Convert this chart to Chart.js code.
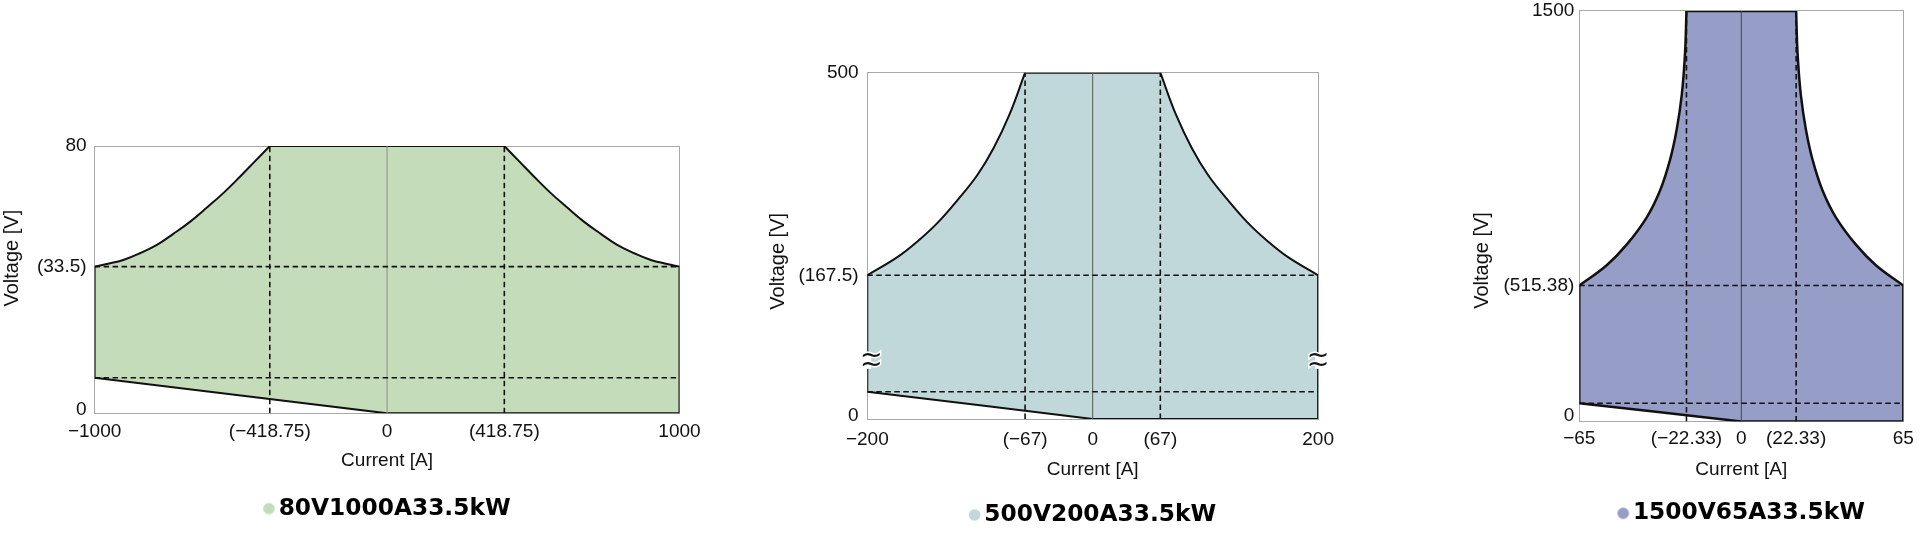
<!DOCTYPE html>
<html><head><meta charset="utf-8">
<script src="https://cdn.jsdelivr.net/npm/chart.js@4.4.1/dist/chart.umd.min.js"></script>
<style>
html,body{margin:0;padding:0;background:#fff;width:1920px;height:533px;overflow:hidden;position:relative}
canvas{position:absolute}
</style></head><body>
<canvas id="c1"></canvas><canvas id="c2"></canvas><canvas id="c3"></canvas>
<script>
// ---------- DATA (axis units as drawn in the schematic) ----------
const xTitle = 'Current [A]';
const yTitle = 'Voltage [V]';

// Chart 1: 80V1000A33.5kW
const c1Label = '80V1000A33.5kW';
const c1LeftCurveX = [-1000, -958, -902, -845, -787, -731, -674, -617, -560, -503, -452, -401];
const c1LeftCurveY = [43.9, 44.7, 45.9, 47.9, 50.4, 53.7, 57.3, 61.5, 65.9, 70.8, 75.4, 80];
const c1RightCurveX = [401, 452, 503, 560, 617, 674, 731, 787, 845, 902, 958, 1000];
const c1RightCurveY = [80, 75.4, 70.8, 65.9, 61.5, 57.3, 53.7, 50.4, 47.9, 45.9, 44.7, 43.9];
const c1BottomX = [1000, 0, -1000];
const c1BottomY = [0, 0, 10.65];
const c1DashX = [-401, 401];
const c1DashY = [43.9, 10.65];
const c1XTicks = [-1000, -401, 0, 401, 1000];
const c1XLabels = ['\u22121000', '(\u2212418.75)', '0', '(418.75)', '1000'];
const c1YTicks = [0, 43.9, 80];
const c1YLabels = ['0', '(33.5)', '80'];
const c1XRange = [-1000, 1000];
const c1YRange = [0, 80];
const c1Breaks = [];

// Chart 2: 500V200A33.5kW
const c2Label = '500V200A33.5kW';
const c2LeftCurveX = [-200, -173, -155, -137.5, -120, -102.5, -88, -74, -60];
const c2LeftCurveY = [207.5, 234, 257, 283.5, 316, 352, 391, 439, 500];
const c2RightCurveX = [60, 74, 88, 102.5, 120, 137.5, 155, 173, 200];
const c2RightCurveY = [500, 439, 391, 352, 316, 283.5, 257, 234, 207.5];
const c2BottomX = [200, 0, -200];
const c2BottomY = [0, 0, 39.4];
const c2DashX = [-60, 60];
const c2DashY = [207.5, 39.4];
const c2XTicks = [-200, -60, 0, 60, 200];
const c2XLabels = ['\u2212200', '(\u221267)', '0', '(67)', '200'];
const c2YTicks = [0, 207.5, 500];
const c2YLabels = ['0', '(167.5)', '500'];
const c2XRange = [-200, 200];
const c2YRange = [0, 500];
const c2Breaks = [{x: -200, y: 84, dx: 4}, {x: 200, y: 84, dx: 0}];

// Chart 3: 1500V65A33.5kW
const c3Label = '1500V65A33.5kW';
const c3LeftCurveX = [-65, -54, -46, -38, -32.6, -28.6, -25.9, -23.9, -22.6, -22];
const c3LeftCurveY = [496.8, 571, 646, 745, 844, 956, 1068, 1192, 1341, 1500];
const c3RightCurveX = [22, 22.6, 23.9, 25.9, 28.6, 32.6, 38, 46, 54, 65];
const c3RightCurveY = [1500, 1341, 1192, 1068, 956, 844, 745, 646, 571, 496.8];
const c3BottomX = [65, 0, -65];
const c3BottomY = [0, 0, 66.9];
const c3DashX = [-22, 22];
const c3DashY = [496.8, 66.9];
const c3XTicks = [-65, -22, 0, 22, 65];
const c3XLabels = ['\u221265', '(\u221222.33)', '0', '(22.33)', '65'];
const c3YTicks = [0, 496.8, 1500];
const c3YLabels = ['0', '(515.38)', '1500'];
const c3XRange = [-65, 65];
const c3YRange = [0, 1500];
const c3Breaks = [];

// ---------- STYLE / LAYOUT ----------
const FONT = '"Liberation Sans", Arial, sans-serif';
const BORDER = '#a8a8a8';
const STYLES = {
  c1: {color: '#c5dcba', left: 0, top: -14, width: 709, height: 554, titlePad: 0.2, yAxisWidth: 70.4, plotTop: 160, padRight: 29.5,
       xTickPad: 7, xTitlePad: -0.8, yTickPad: 8, legendPad: 24.85, padBottom: 9.75, lineWidth: 2, zeroColor: '#8c8c8c', zeroLift: 4},
  c2: {color: '#c1d8da', left: 760, top: -14, width: 584, height: 554, titlePad: 6.6, yAxisWidth: 76.7, plotTop: 86.7, padRight: 25.9,
       xTickPad: 9, xTitlePad: -1.2, yTickPad: 8.7, legendPad: 21.95, padBottom: 3.35, lineWidth: 2, zeroColor: '#555555', zeroLift: 3},
  c3: {color: '#969ec8', left: 1460, top: -14, width: 460, height: 554, titlePad: 10.5, yAxisWidth: 84.8, plotTop: 24.9, padRight: 16.7,
       xTickPad: 5.5, xTitlePad: 2.6, yTickPad: 5, legendPad: 20.95, padBottom: 5.05, lineWidth: 2.5, zeroColor: '#444444', zeroLift: 6}
};

function dotImage(color) {
  const c = document.createElement('canvas');
  c.width = 22; c.height = 14;
  const g = c.getContext('2d');
  g.fillStyle = color;
  g.beginPath(); g.arc(14.7, 7, 5.8, 0, Math.PI * 2); g.fill();
  return c;
}

// Build the closed outline: curve pieces keep smooth joints, piece ends become sharp corners.
function outline(pieces) {
  const pts = [];
  pieces.forEach(([xs, ys], k) => {
    xs.forEach((x, i) => {
      const corner = (i === 0 || i === xs.length - 1 || k === pieces.length - 1);
      pts.push({x, y: ys[i]});
      if (corner) pts.push({x, y: ys[i]});
    });
  });
  pts.push({x: pieces[0][0][0], y: pieces[0][1][0]});
  return pts;
}

const breakPlugin = {
  id: 'breakMarks',
  afterDatasetsDraw(chart, args, opts) {
    const pts = (opts && opts.points) || [];
    const ctx = chart.ctx;
    pts.forEach(p => {
      const x = chart.scales.x.getPixelForValue(p.x) + (p.dx || 0);
      const y = chart.scales.y.getPixelForValue(p.y);
      ctx.save();
      ctx.fillStyle = '#ffffff';
      ctx.fillRect(x - 3 - (p.dx || 0), y - 8, 7, 16);
      ctx.font = '27px "DejaVu Sans"';
      ctx.textAlign = 'center';
      ctx.textBaseline = 'middle';
      ctx.lineWidth = 3; ctx.strokeStyle = '#ffffff';
      ctx.strokeText('~', x, y - 4.5);
      ctx.strokeText('~', x, y + 4.5);
      ctx.fillStyle = '#111';
      ctx.fillText('~', x, y - 4.5);
      ctx.fillText('~', x, y + 4.5);
      ctx.restore();
    });
  }
};

function build(id, d, S) {
  const el = document.getElementById(id);
  el.width = S.width; el.height = S.height;
  el.style.left = S.left + 'px'; el.style.top = S.top + 'px';
  el.style.width = S.width + 'px'; el.style.height = S.height + 'px';

  const datasets = [];
  datasets.push({
    label: d.label,
    data: outline([[d.lx, d.ly], [d.rx, d.ry], [d.bx, d.by]]),
    backgroundColor: S.color, borderColor: '#111', borderWidth: S.lineWidth,
    fill: 'shape', pointRadius: 0, tension: 0.4, order: 3, borderJoinStyle: 'round'
  });
  datasets.push({
    label: 'zero', data: [{x: 0, y: d.yRange[0]}, {x: 0, y: d.yRange[1]}],
    borderColor: S.zeroColor, borderWidth: 1, pointRadius: 0, fill: false, order: 2
  });
  d.dashX.forEach(x => datasets.push({
    label: 'dx', data: [{x, y: d.yRange[0]}, {x, y: d.yRange[1]}],
    borderColor: '#111', borderWidth: 1.6, borderDash: [5.5, 3.5], pointRadius: 0, fill: false, order: 1
  }));
  d.dashY.forEach(y => datasets.push({
    label: 'dy', data: [{x: d.xRange[0], y}, {x: d.xRange[1], y}],
    borderColor: '#111', borderWidth: 1.6, borderDash: [5.5, 3.5], pointRadius: 0, fill: false, order: 1
  }));

  const tickFont = {family: FONT, size: 19};
  // bottom y label sits slightly above the axis line: a 2-line label with a small line height lifts it
  const yTickFont = (ctx) => (ctx.index === 0 ? {family: FONT, size: 19, lineHeight: (2 * S.zeroLift) / 19} : tickFont);
  new Chart(el, {
    type: 'line',
    data: {datasets},
    plugins: [breakPlugin],
    options: {
      responsive: false, animation: false, devicePixelRatio: 1,
      layout: {padding: {left: 0, top: 0, right: S.padRight, bottom: S.padBottom}},
      scales: {
        x: {
          type: 'linear', position: 'bottom', min: d.xRange[0], max: d.xRange[1],
          afterBuildTicks: s => { s.ticks = d.xTicks.map(v => ({value: v})); },
          ticks: {autoSkip: false, maxRotation: 0, padding: S.xTickPad, color: '#111', font: tickFont,
                  callback: (v, i) => d.xLabels[i]},
          grid: {display: false, drawTicks: false},
          border: {display: true, color: BORDER, width: 1},
          title: {display: true, text: xTitle, color: '#111', font: tickFont, padding: {top: S.xTitlePad, bottom: 0}}
        },
        y: {
          type: 'linear', position: 'left', min: d.yRange[0], max: d.yRange[1],
          afterBuildTicks: s => { s.ticks = d.yTicks.map(v => ({value: v})); },
          afterFit: s => { s.width = S.yAxisWidth; },
          ticks: {autoSkip: false, padding: S.yTickPad, color: '#111', font: yTickFont,
                  callback: (v, i) => (i === 0 ? [d.yLabels[i], ''] : d.yLabels[i])},
          grid: {display: false, drawTicks: false},
          border: {display: true, color: BORDER, width: 1}
        },
        x2: {
          type: 'linear', position: 'top', min: d.xRange[0], max: d.xRange[1],
          ticks: {display: false}, grid: {display: false, drawTicks: false},
          border: {display: true, color: BORDER, width: 1},
          afterFit: s => { s.height = S.plotTop; }
        },
        y2: {
          type: 'linear', position: 'right', min: d.yRange[0], max: d.yRange[1],
          ticks: {display: false}, grid: {display: false, drawTicks: false},
          border: {display: true, color: BORDER, width: 1},
          afterFit: s => { s.width = 0; }
        }
      },
      plugins: {
        tooltip: {enabled: false},
        title: {display: true, position: 'left', fullSize: true, text: yTitle, color: '#111',
                font: {family: FONT, size: 20, weight: 'normal'}, padding: {top: S.titlePad, bottom: 0}},
        legend: {
          display: true, position: 'bottom', fullSize: false, align: 'center',
          labels: {
            usePointStyle: true, pointStyle: dotImage(S.color), pointStyleWidth: 3.5, boxHeight: 12,
            padding: S.legendPad, color: '#000',
            font: {family: '"DejaVu Sans"', size: 23.3, weight: 'bold'},
            filter: item => item.datasetIndex === 0
          }
        },
        breakMarks: {points: d.breaks}
      }
    }
  });
}

build('c1', {label: c1Label, lx: c1LeftCurveX, ly: c1LeftCurveY, rx: c1RightCurveX, ry: c1RightCurveY, bx: c1BottomX, by: c1BottomY,
  dashX: c1DashX, dashY: c1DashY, xTicks: c1XTicks, xLabels: c1XLabels, yTicks: c1YTicks, yLabels: c1YLabels,
  xRange: c1XRange, yRange: c1YRange, breaks: c1Breaks}, STYLES.c1);
build('c2', {label: c2Label, lx: c2LeftCurveX, ly: c2LeftCurveY, rx: c2RightCurveX, ry: c2RightCurveY, bx: c2BottomX, by: c2BottomY,
  dashX: c2DashX, dashY: c2DashY, xTicks: c2XTicks, xLabels: c2XLabels, yTicks: c2YTicks, yLabels: c2YLabels,
  xRange: c2XRange, yRange: c2YRange, breaks: c2Breaks}, STYLES.c2);
build('c3', {label: c3Label, lx: c3LeftCurveX, ly: c3LeftCurveY, rx: c3RightCurveX, ry: c3RightCurveY, bx: c3BottomX, by: c3BottomY,
  dashX: c3DashX, dashY: c3DashY, xTicks: c3XTicks, xLabels: c3XLabels, yTicks: c3YTicks, yLabels: c3YLabels,
  xRange: c3XRange, yRange: c3YRange, breaks: c3Breaks}, STYLES.c3);
</script>
</body></html>
